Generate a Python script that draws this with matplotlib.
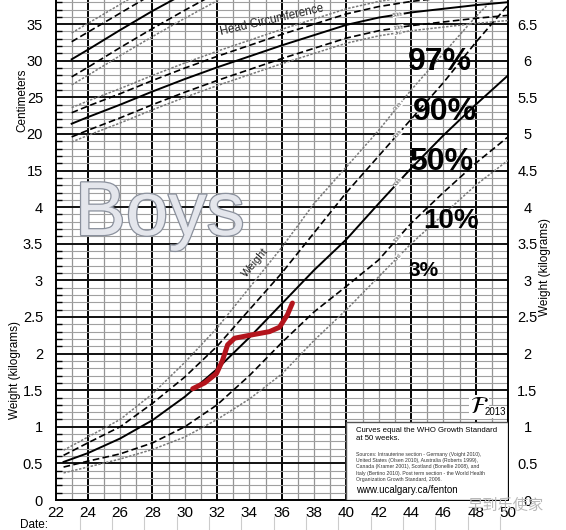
import numpy as np
import matplotlib.pyplot as plt
from matplotlib.patches import Rectangle
import matplotlib.patheffects as pe

plt.rcParams['font.family'] = ['Liberation Sans', 'DejaVu Sans']

# weight percentiles (kg)
wt_weeks = [22.5, 24, 26, 28, 30, 32, 34, 36, 38, 40, 42, 44, 46, 48, 50]
wt_p97 = [0.68, 0.86, 1.10, 1.45, 1.88, 2.35, 2.90, 3.45, 4.05, 4.55, 5.05, 5.60, 6.10, 6.60, 7.05]
wt_p90 = [0.61, 0.78, 1.00, 1.32, 1.68, 2.10, 2.60, 3.10, 3.65, 4.20, 4.70, 5.20, 5.70, 6.25, 6.76]
wt_p50 = [0.52, 0.64, 0.84, 1.09, 1.41, 1.79, 2.22, 2.68, 3.14, 3.56, 4.05, 4.53, 4.98, 5.40, 5.80]
wt_p10 = [0.45, 0.53, 0.63, 0.78, 1.00, 1.30, 1.70, 2.15, 2.57, 2.92, 3.28, 3.78, 4.20, 4.60, 4.96]
wt_p3 = [0.37, 0.45, 0.56, 0.69, 0.86, 1.10, 1.38, 1.72, 2.18, 2.60, 3.05, 3.50, 3.90, 4.30, 4.64]

# head circumference percentiles (cm)
hc_weeks = [23, 24, 26, 28, 30, 32, 34, 36, 38, 40, 42, 44, 46, 48, 50]
hc_p97 = [23.6, 24.5, 26.2, 28.0, 29.7, 31.3, 32.8, 34.3, 35.7, 37.1, 38.1, 38.8, 39.3, 39.8, 40.2]
hc_p90 = [22.9, 23.8, 25.5, 27.3, 29.0, 30.6, 32.1, 33.6, 35.0, 36.4, 37.4, 38.1, 38.6, 39.1, 39.5]
hc_p50 = [21.4, 22.3, 24.0, 25.8, 27.5, 29.1, 30.6, 32.1, 33.5, 34.9, 35.9, 36.6, 37.1, 37.6, 38.0]
hc_p10 = [19.6, 20.5, 22.2, 24.0, 25.7, 27.3, 28.8, 30.3, 31.7, 33.1, 34.1, 34.8, 35.3, 35.8, 36.2]
hc_p3 = [18.9, 19.8, 21.5, 23.3, 25.0, 26.6, 28.1, 29.6, 31.0, 32.4, 33.4, 34.1, 34.6, 35.1, 35.5]

# length percentiles (cm)
len_weeks = [23, 24, 26, 28, 30, 32, 34]
len_p97 = [33.8, 35.1, 37.7, 40.3, 42.8, 45.2, 47.5]
len_p90 = [32.6, 33.9, 36.5, 39.1, 41.6, 44.0, 46.3]
len_p50 = [30.2, 31.5, 34.2, 36.8, 39.2, 41.6, 43.9]
len_p10 = [27.8, 29.1, 31.8, 34.4, 36.9, 39.3, 41.6]
len_p3 = [26.7, 28.0, 30.7, 33.3, 35.8, 38.2, 40.5]

# the baby's weights
baby_weeks = [30.49, 31.23, 31.97, 32.34, 32.65, 33.08, 34.01, 35.24, 35.86, 36.35, 36.66]
baby_kg = [1.52, 1.60, 1.73, 1.91, 2.12, 2.21, 2.25, 2.30, 2.36, 2.53, 2.69]

kg_ticks = [0, 0.5, 1, 1.5, 2, 2.5, 3, 3.5, 4, 4.5, 5, 5.5, 6, 6.5]
left_labels = ['0', '0.5', '1', '1.5', '2', '2.5', '3', '3.5', '4',
               '15', '20', '25', '30', '35']
right_labels = ['0', '0.5', '1', '1.5', '2', '2.5', '3', '3.5', '4',
                '4.5', '5', '5.5', '6', '6.5']
week_ticks = list(range(22, 51, 2))

pct_names = ['97th', '90th', '50th', '10th', '3rd']
big_labels = ['97%', '90%', '50%', '10%', '3%']

YMAX = 6.83
W, H = 566, 530

fig = plt.figure(figsize=(W / 100, H / 100), dpi=100)
ax = fig.add_axes([55.5 / W, 30 / H, (508 - 55.5) / W, 500 / H])
ax.set_xlim(22, 50)
ax.set_ylim(0, YMAX)

# graph paper
for w in range(23, 50):
    if w % 4 == 0:
        ax.axvline(w, color='black', lw=1.4, zorder=1)
    else:
        ax.axvline(w, color='#959595', lw=0.9, zorder=1)
for k in np.arange(0.1, YMAX, 0.1):
    if abs(k * 2 - round(k * 2)) < 1e-6:
        ax.axhline(k, color='#111111', lw=1.4, zorder=1)
    else:
        ax.axhline(k, color='#a0a0a0', lw=0.8, zorder=1)

for s in ['left', 'right', 'bottom']:
    ax.spines[s].set_linewidth(1.4)
ax.spines['top'].set_visible(False)

ax.set_xticks(week_ticks)
ax.set_xticklabels([str(w) for w in week_ticks], fontsize=11)
ax.tick_params(axis='x', length=0, pad=4)
ax.set_yticks(kg_ticks)
ax.set_yticklabels(left_labels, fontsize=10.5)
ax.set_yticks(np.arange(0, YMAX, 0.1), minor=True)
ax.tick_params(axis='y', which='major', length=0, pad=9)
ax.tick_params(axis='y', which='minor', direction='in', length=4, width=1, right=True)

axr = ax.twinx()
axr.set_ylim(0, YMAX)
axr.set_yticks(kg_ticks)
axr.set_yticklabels(right_labels, fontsize=10.5)
axr.tick_params(axis='y', length=0, pad=14)
for lab in axr.get_yticklabels():
    lab.set_ha('center')
for s in axr.spines.values():
    s.set_visible(False)

# cm scale shares the paper: 0 kg line = -30 cm, 1 kg per 10 cm
axc = ax.twinx()
axc.set_ylim(-30, 10 * (YMAX - 3))
axc.axis('off')

styles = [dict(color='#7a7a7a', lw=1.1, ls=(0, (1.6, 1.0))),
          dict(color='black', lw=1.2, ls=(0, (4, 2))),
          dict(color='black', lw=1.4, ls='-'),
          dict(color='black', lw=1.2, ls=(0, (4, 2))),
          dict(color='#7a7a7a', lw=1.1, ls=(0, (1.6, 1.0)))]

for vals, st in zip([wt_p97, wt_p90, wt_p50, wt_p10, wt_p3], styles):
    ax.plot(wt_weeks, vals, zorder=4, **st)
for vals, st in zip([hc_p97, hc_p90, hc_p50, hc_p10, hc_p3], styles):
    axc.plot(hc_weeks, vals, **st)
for vals, st in zip([len_p97, len_p90, len_p50, len_p10, len_p3], styles):
    axc.plot(len_weeks, vals, **st)

# small percentile tags on the curves
for vals, name in zip([wt_p97, wt_p90, wt_p50, wt_p10, wt_p3], pct_names):
    ax.text(43.2, np.interp(43.2, wt_weeks, vals), name, fontsize=3.8, rotation=48,
            ha='center', va='center', color='#444444', zorder=5,
            bbox=dict(facecolor='white', edgecolor='none', pad=0.3))
for vals, name in zip([hc_p50, hc_p10, hc_p3], pct_names[2:]):
    axc.text(43.2, np.interp(43.2, hc_weeks, vals), name, fontsize=3.8, rotation=8,
             ha='center', va='center', color='#444444',
             bbox=dict(facecolor='white', edgecolor='none', pad=0.3))

axc.text(35.4, 35.6, 'Head Circumference', fontsize=8.3, rotation=13,
         ha='center', va='center', color='#222222')
ax.text(34.35, 3.24, 'Weight', fontsize=8, rotation=50,
        ha='center', va='center', color='#222222', zorder=5)

# baby's weight
ax.plot(baby_weeks, baby_kg, color='#b3141c', lw=3.6, solid_capstyle='round',
        solid_joinstyle='round', zorder=6)

# big title and hand-written percent labels
ax.text(23.2, 3.62, 'Boys', fontsize=55, color='#e4e6ec', zorder=5,
        path_effects=[pe.withStroke(linewidth=1.8, foreground='#8a909c')])
big_pos = [(45.8, 5.98, 23), (46.1, 5.30, 23), (45.85, 4.62, 23), (46.5, 3.81, 20), (44.75, 3.14, 15)]
for lab, (x, y, fs) in zip(big_labels, big_pos):
    ax.text(x, y, lab, fontsize=fs, fontweight='bold', ha='center', va='center',
            color='black', zorder=7)

# info box
ax.add_patch(Rectangle((40, 0), 10, 1.07, facecolor='white', edgecolor='#555555',
                       lw=1.0, zorder=5))
ax.text(40.6, 1.0, 'Curves equal the WHO Growth Standard\nat 50 weeks.', fontsize=5.6,
        va='top', ha='left', zorder=6, linespacing=1.3)
ax.text(40.6, 0.66, 'Sources: Intrauterine section - Germany (Voight 2010),\n'
        'United States (Olsen 2010), Australia (Roberts 1999),\n'
        'Canada (Kramer 2001), Scotland (Bonellie 2008), and\n'
        'Italy (Bertino 2010). Post term section - the World Health\n'
        'Organization Growth Standard, 2006.', fontsize=3.7, va='top', ha='left',
        zorder=6, linespacing=1.35, color='#333333')
ax.text(40.6, 0.07, 'www.ucalgary.ca/fenton', fontsize=7, va='bottom', ha='left', zorder=6)
ax.text(48.2, 1.27, r'$\mathcal{F}$', fontsize=17, ha='center', va='center', zorder=6,
        bbox=dict(facecolor='white', edgecolor='none', pad=0.5))
ax.text(49.2, 1.2, '2013', fontsize=7, ha='center', va='center', zorder=6,
        bbox=dict(facecolor='white', edgecolor='none', pad=0.5))

# axis titles
fig.text(22 / W, 1 - 100 / H, 'Centimeters', rotation=90, fontsize=8.5, ha='center', va='center')
fig.text(15 / W, 1 - 370 / H, 'Weight (kilograms)', rotation=90, fontsize=8.5, ha='center', va='center')
fig.text(545 / W, 1 - 267 / H, 'Weight (kilograms)', rotation=90, fontsize=8.5, ha='center', va='center')

# date row under the axis
ax.vlines(np.arange(23.5, 50, 2), -0.06, -0.032, transform=ax.get_xaxis_transform(),
          color='#cccccc', lw=0.8, clip_on=False)
fig.text(20 / W, 1 - 525 / H, 'Date:', fontsize=8.5, ha='left', va='center')

# watermark
fig.text(505 / W, 1 - 505 / H, '早到乐使家', fontsize=11, ha='center', va='center',
         color='#b8b8b8', family=['Noto Sans CJK SC', 'DejaVu Sans'])

fig.savefig('out.png', dpi=100)
